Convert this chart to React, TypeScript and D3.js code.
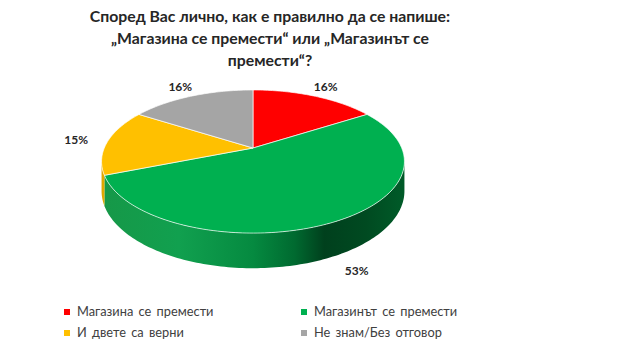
import React from "react";
import * as d3 from "d3";

const categories = ["Магазина се премести", "Магазинът се премести", "И двете са верни", "Не знам/Без отговор"];
const values = [16, 53, 15, 16];
const colors = ["#FF0000", "#00B050", "#FFC000", "#A5A5A5"];
const titleLines = [
  "Според Вас лично, как е правилно да се напише:",
  "„Магазина се премести“ или „Магазинът се",
  "премести“?",
];

const W = 640, H = 360;
const CX = 253, CY = 148;
const RX = 148.7, RY = 69, D = 5.29, DEPTH = 28.5;
const FONT = "Lato, 'Open Sans', sans-serif";

function proj(theta: number, r = 1, down = 0): [number, number] {
  const s = r * Math.sin(theta);
  const v = -r * Math.cos(theta);
  const f = D / (D - v);
  return [CX + RX * s * f, CY + RY * v * f + down * f];
}

function arcPoints(a0: number, a1: number, down = 0, r = 1): [number, number][] {
  const n = Math.max(2, Math.ceil(Math.abs(a1 - a0) / 0.02));
  const pts: [number, number][] = [];
  for (let i = 0; i <= n; i++) {
    const t = a0 + ((a1 - a0) * i) / n;
    pts.push(proj(t, r, down));
  }
  return pts;
}

export default function App() {
  const pie = d3.pie<number>().sort(null).value((d) => d).startAngle(0).endAngle(2 * Math.PI);
  const arcs = pie(values);
  const line = d3.line();
  const visA0 = Math.acos(-1 / D);
  const visA1 = 2 * Math.PI - visA0;

  const sides = arcs
    .map((a, i) => {
      const a0 = Math.max(a.startAngle, visA0);
      const a1 = Math.min(a.endAngle, visA1);
      if (a1 <= a0) return null;
      const top = arcPoints(a0, a1, 0);
      const bot = arcPoints(a1, a0, DEPTH);
      return { i, d: line([...top, ...bot])! + "Z" };
    })
    .filter(Boolean) as { i: number; d: string }[];

  const tops = arcs.map((a, i) => {
    const pts = [proj(0, 0), ...arcPoints(a.startAngle, a.endAngle, 0)];
    return { i, d: line(pts)! + "Z" };
  });

  const labels = arcs.map((a, i) => {
    const mid = (a.startAngle + a.endAngle) / 2;
    const front = -Math.cos(mid) > 0.3;
    const [x, y] = proj(mid, 1.22, front ? DEPTH * 0.8 : 0);
    return { i, x, y, text: `${a.data}%` };
  });

  const sideColors: Record<number, string> = { 1: "url(#gGreen)", 2: "url(#gYellow)" };

  return (
    <svg width={W} height={H} style={{ position: "absolute", left: 0, top: 0, background: "#fff" }}>
      <defs>
        <linearGradient id="gGreen" gradientUnits="userSpaceOnUse" x1={CX - RX} x2={CX + RX} y1={0} y2={0}>
          <stop offset="0" stopColor="#169848" />
          <stop offset="0.25" stopColor="#11a04f" />
          <stop offset="0.5" stopColor="#058a40" />
          <stop offset="0.64" stopColor="#006a30" />
          <stop offset="0.74" stopColor="#00401d" />
          <stop offset="0.88" stopColor="#004a21" />
          <stop offset="1" stopColor="#005a28" />
        </linearGradient>
        <linearGradient id="gYellow" x1="0" x2="1" y1="0" y2="0">
          <stop offset="0" stopColor="#d9a200" />
          <stop offset="1" stopColor="#e6ad00" />
        </linearGradient>
      </defs>
      <g fontFamily={FONT} fontWeight={700} fill="#262626" fontSize={15.8} textAnchor="middle">
        {titleLines.map((t, i) => (
          <text key={i} x={270} y={22 + i * 22}>{t}</text>
        ))}
      </g>
      {sides.map((s) => (
        <path key={"s" + s.i} d={s.d} fill={sideColors[s.i] ?? colors[s.i]} />
      ))}
      {tops.map((t) => (
        <path key={"t" + t.i} d={t.d} fill={colors[t.i]} stroke="#ffffff" strokeOpacity={0.75} strokeWidth={0.9} strokeLinejoin="round" />
      ))}
      <g fontFamily={FONT} fontWeight={700} fill="#262626" fontSize={12} textAnchor="middle">
        {labels.map((l) => (
          <text key={l.i} x={l.x} y={l.y} dy="0.35em">{l.text}</text>
        ))}
      </g>
      <g fontFamily={FONT} fill="#404040" fontSize={12.8}>
        {categories.map((c, i) => {
          const col = i % 2, row = Math.floor(i / 2);
          const x = col === 0 ? 64 : 301;
          const y = 312 + row * 21;
          return (
            <g key={c}>
              <rect x={x} y={y - 3} width={6} height={6} fill={colors[i]} />
              <text x={x + 13} y={y} dy="0.35em" wordSpacing={2}>{c}</text>
            </g>
          );
        })}
      </g>
    </svg>
  );
}
